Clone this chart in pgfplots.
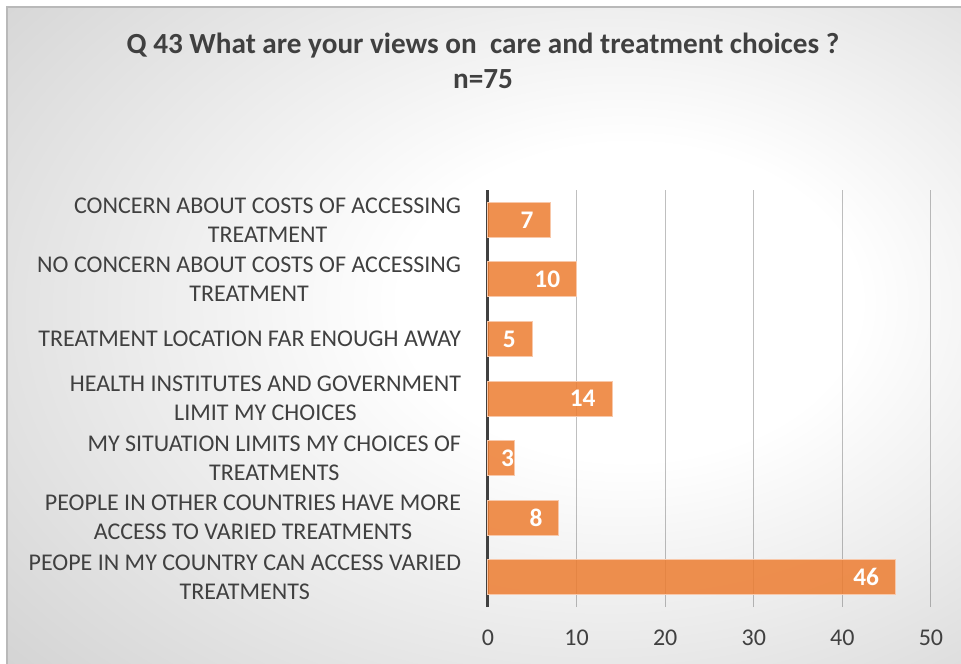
\documentclass[border=0pt]{standalone}
\usepackage{pgfplots}
\pgfplotsset{compat=1.18}
\usepackage{fontspec}
\setmainfont{Carlito}
\definecolor{txt}{RGB}{64,64,64}
\definecolor{barc}{RGB}{237,125,49}
\definecolor{baredge}{RGB}{248,200,170}
\definecolor{bgout}{RGB}{196,196,196}
\definecolor{frame}{RGB}{185,185,185}
\pgfdeclareradialshading{bgshade}{\pgfpoint{9bp}{3bp}}{color(0bp)=(white); color(12bp)=(white); color(50bp)=(bgout); color(80bp)=(bgout)}
\begin{document}
\begin{tikzpicture}
\begin{scope}[x=0.75pt,y=-0.75pt]
\useasboundingbox (0,0) rectangle (961,664);
\fill[white] (0,0) rectangle (961,664);
\shade[shading=bgshade] (7,7) rectangle (961,664);
\draw[frame, line width=1pt] (7,664) -- (7,7) -- (961,7);
\node[font=\fontsize{21.9}{26}\selectfont\bfseries, text=txt, align=center] at (483,46) {Q 43 What are your views on\ \ care and treatment choices ?};
\node[font=\fontsize{21.9}{26}\selectfont\bfseries, text=txt, align=center] at (483,79) {n=75};
\end{scope}
\begin{axis}[
  at={(366pt,-455.25pt)}, anchor=south west,
  width=332.25pt, height=312.75pt, scale only axis,
  xmin=0, xmax=50, ymin=-0.5, ymax=6.5,
  xbar, bar width=26.25pt,
  xtick={0,10,20,30,40,50},
  ytick={0,1,2,3,4,5,6},
  yticklabels={{PEOPE IN MY COUNTRY CAN ACCESS VARIED\\TREATMENTS},
    {PEOPLE IN OTHER COUNTRIES HAVE MORE\\ACCESS TO VARIED TREATMENTS},
    {MY SITUATION LIMITS MY CHOICES OF\\TREATMENTS},
    {HEALTH INSTITUTES AND GOVERNMENT\\LIMIT MY CHOICES},
    {TREATMENT LOCATION FAR ENOUGH AWAY},
    {NO CONCERN ABOUT COSTS OF ACCESSING\\TREATMENT},
    {CONCERN ABOUT COSTS OF ACCESSING\\TREATMENT}},
  /pgf/number format/assume math mode=true,
  yticklabel style={font=\fontsize{18}{21.75}\selectfont, text=txt, align=center, anchor=east, inner sep=0pt, xshift=-20pt},
  xticklabel style={font=\fontsize{18}{21.75}\selectfont, text=txt, anchor=north, inner sep=0pt, yshift=-17pt},
  major tick length=0pt,
  axis lines*=left,
  x axis line style={draw=none},
  y axis line style={draw=txt, line width=2.25pt, -},
  xmajorgrids, grid style={draw=black, opacity=0.25, line width=0.75pt},
  visualization depends on={x \as \rawx},
  nodes near coords,
  every node near coord/.append style={font=\fontsize{19}{22}\selectfont\bfseries, text=white, anchor=east, inner sep=0pt, xshift={-12pt*(\rawx>4)}},
  clip=false,
]
\addplot[fill=barc, fill opacity=0.85, draw=baredge, line width=0.75pt, text opacity=1] coordinates {
  (46,0) (8,1) (3,2) (14,3) (5,4) (10,5) (7,6)
};
\end{axis}
\end{tikzpicture}
\end{document}
